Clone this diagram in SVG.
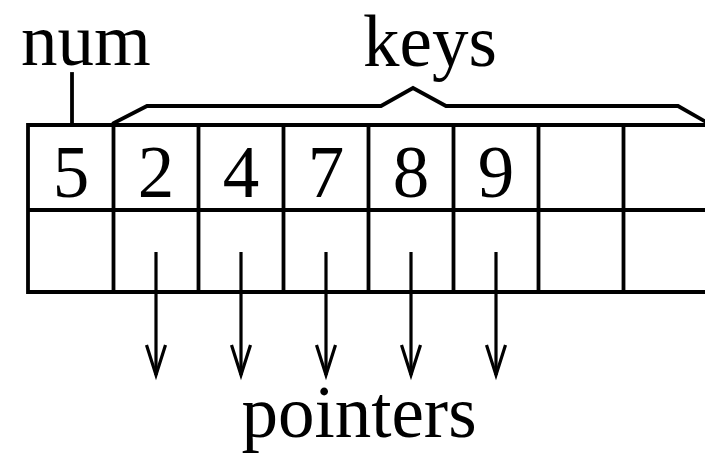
<svg xmlns="http://www.w3.org/2000/svg" width="705" height="456" viewBox="0 0 705 456">
<style>
.ln{fill:none;stroke:#000;stroke-width:3.8;stroke-linecap:square}
.tx{font-family:"Liberation Serif","Times New Roman",serif;font-size:73px;fill:#000;text-anchor:middle}
.ar{fill:none;stroke:#000;stroke-width:3.2;marker-end:url(#v)}
</style>
<defs>
<marker id="v" markerUnits="userSpaceOnUse" viewBox="-34 -12 36 24" refX="0" refY="0" markerWidth="36" markerHeight="24" orient="auto" overflow="visible">
<path d="M-30,-9.5 L0,0 L-30,9.5" fill="none" stroke="#000" stroke-width="3.2"/>
</marker>
</defs>
<rect width="705" height="456" fill="#fff"/>
<g id="label-num"><text class="tx" x="86" y="65">num</text></g>
<g id="label-keys"><text class="tx" x="430" y="66">keys</text></g>
<g id="label-pointers"><text class="tx" x="359" y="437">pointers</text></g>
<g id="node-array">
<path class="ln" d="M720,125 H28 V292 H720 M28,210 H720 M113.5,125 V292 M198.5,125 V292 M283.5,125 V292 M368.5,125 V292 M453.5,125 V292 M538.5,125 V292 M623.5,125 V292"/>
<text class="tx" x="71" y="197">5</text>
<text class="tx" x="156" y="197">2</text>
<text class="tx" x="241" y="197">4</text>
<text class="tx" x="326" y="197">7</text>
<text class="tx" x="411" y="197">8</text>
<text class="tx" x="496" y="197">9</text>
</g>
<g id="connectors">
<path class="ln" d="M72,74 V125"/>
<path class="ln" d="M114,123 L147,106 H381 L413,88 L446,106 H678 L706,122"/>
<path class="ar" d="M156,252 V375"/>
<path class="ar" d="M241,252 V375"/>
<path class="ar" d="M326,252 V375"/>
<path class="ar" d="M411,252 V375"/>
<path class="ar" d="M496,252 V375"/>
</g>
</svg>
